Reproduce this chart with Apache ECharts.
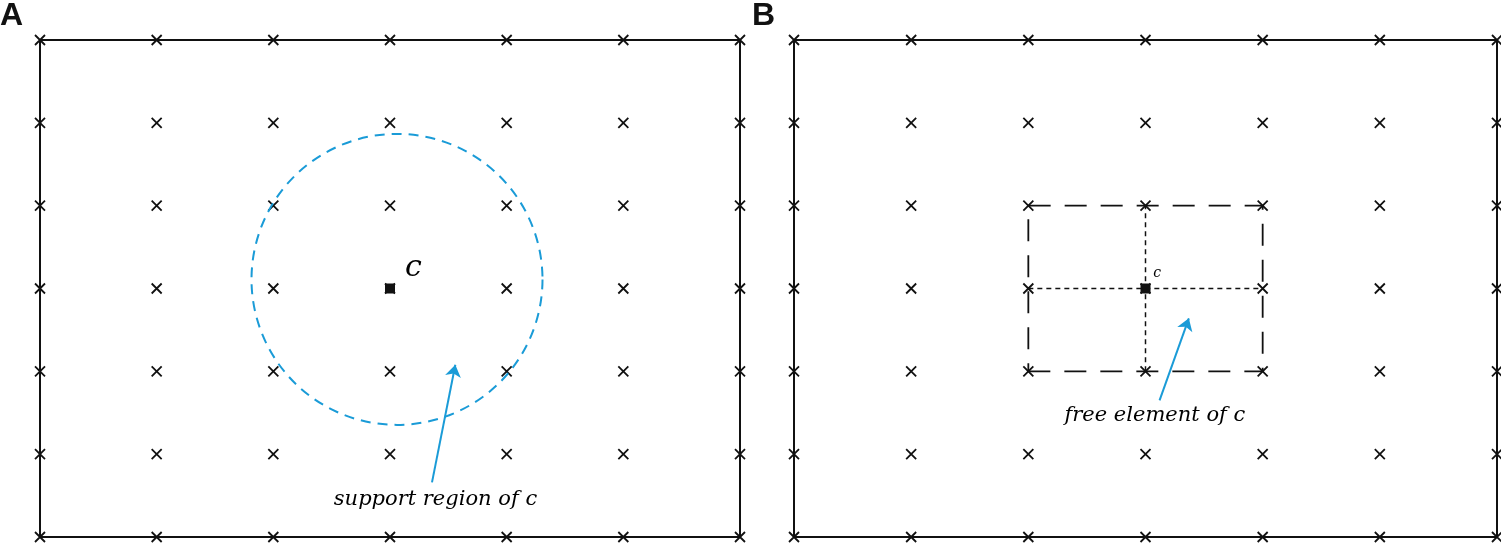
<!DOCTYPE html>
<html><head><meta charset="utf-8">
<script src="https://cdn.jsdelivr.net/npm/echarts@6/dist/echarts.min.js"></script>
<style>html,body{margin:0;padding:0;background:#fff}#c{width:1501px;height:543px}</style>
</head><body><div id="c"></div>
<script>
var gridCols = [0,1,2,3,4,5,6];
var gridRows = [0,1,2,3,4,5,6];
var center = [3,3];
var circleCenter = [3.06,3.11];
var panelLabels = ['A','B'];
var supportText = 'support region of c';
var freeText = 'free element of c';
var rectPath = [[2,2],[4,2],[4,4],[2,4],[2,2]];
var innerV = [[3,2],[3,4]];
var innerH = [[2,3],[4,3]];
var arrowA = [[3.36,0.66],[3.56,2.08]];
var arrowB = [[3.12,1.65],[3.37,2.64]];

var pts = [];
gridCols.forEach(function(x){gridRows.forEach(function(y){pts.push([x,y]);});});
var crossSym = 'path://M0,0L10,10M10,0L0,10';
var blue = '#1a9bd7';
function axes(i){return {gridIndex:i,type:'value',min:0,max:6,show:false};}
function crosses(i){return {type:'scatter',xAxisIndex:i,yAxisIndex:i,data:pts,symbol:crossSym,symbolSize:10,
  itemStyle:{color:'none',borderColor:'#111',borderWidth:1.8,opacity:1},silent:true,z:3};}
function arrow(i,d){return {type:'lines',coordinateSystem:'cartesian2d',xAxisIndex:i,yAxisIndex:i,
  data:[{coords:d}],symbol:['none','arrow'],symbolSize:12,lineStyle:{color:blue,width:2,opacity:1},z:5};}
function label(i,pos,t,size){return {type:'scatter',xAxisIndex:i,yAxisIndex:i,data:[pos],symbolSize:0,itemStyle:{opacity:1},
  label:{show:true,position:'inside',formatter:t,fontFamily:'DejaVu Serif',fontStyle:'italic',fontSize:size,color:'#000'},z:6};}
var ch = echarts.init(document.getElementById('c'));
ch.setOption({
  animation:false,
  grid:[{left:40,right:761,top:40,bottom:6,show:true,borderColor:'#111',borderWidth:2},
        {left:794,right:4,top:40,bottom:6,show:true,borderColor:'#111',borderWidth:2}],
  xAxis:[axes(0),axes(1)], yAxis:[axes(0),axes(1)],
  graphic:[
    {type:'text',left:0,top:0,style:{text:panelLabels[0],font:'bold 32px Liberation Sans',fill:'#111'}},
    {type:'text',left:752,top:0,style:{text:panelLabels[1],font:'bold 32px Liberation Sans',fill:'#111'}}
  ],
  series:[
    crosses(0), crosses(1),
    {type:'scatter',xAxisIndex:0,yAxisIndex:0,data:[circleCenter],symbol:'circle',symbolSize:291,
      itemStyle:{color:'none',borderColor:blue,borderWidth:2,borderType:[10,7],opacity:1},z:4},
    {type:'scatter',xAxisIndex:0,yAxisIndex:0,data:[center],symbol:'rect',symbolSize:10,itemStyle:{color:'#111',opacity:1},z:6},
    {type:'scatter',xAxisIndex:1,yAxisIndex:1,data:[center],symbol:'rect',symbolSize:10,itemStyle:{color:'#111',opacity:1},z:6},
    {type:'line',xAxisIndex:1,yAxisIndex:1,data:rectPath,symbol:'none',lineStyle:{color:'#111',width:1.8,type:[22,14]},z:4},
    {type:'line',xAxisIndex:1,yAxisIndex:1,data:innerV,symbol:'none',lineStyle:{color:'#111',width:1.5,type:[5,4]},z:4},
    {type:'line',xAxisIndex:1,yAxisIndex:1,data:innerH,symbol:'none',lineStyle:{color:'#111',width:1.5,type:[5,4]},z:4},
    arrow(0,arrowA), arrow(1,arrowB),
    label(0,[3.39,0.45],supportText,21),
    label(1,[3.08,1.47],freeText,21),
    label(0,[3.2,3.25],'c',30),
    label(1,[3.1,3.18],'c',14)
  ]
});
</script></body></html>
